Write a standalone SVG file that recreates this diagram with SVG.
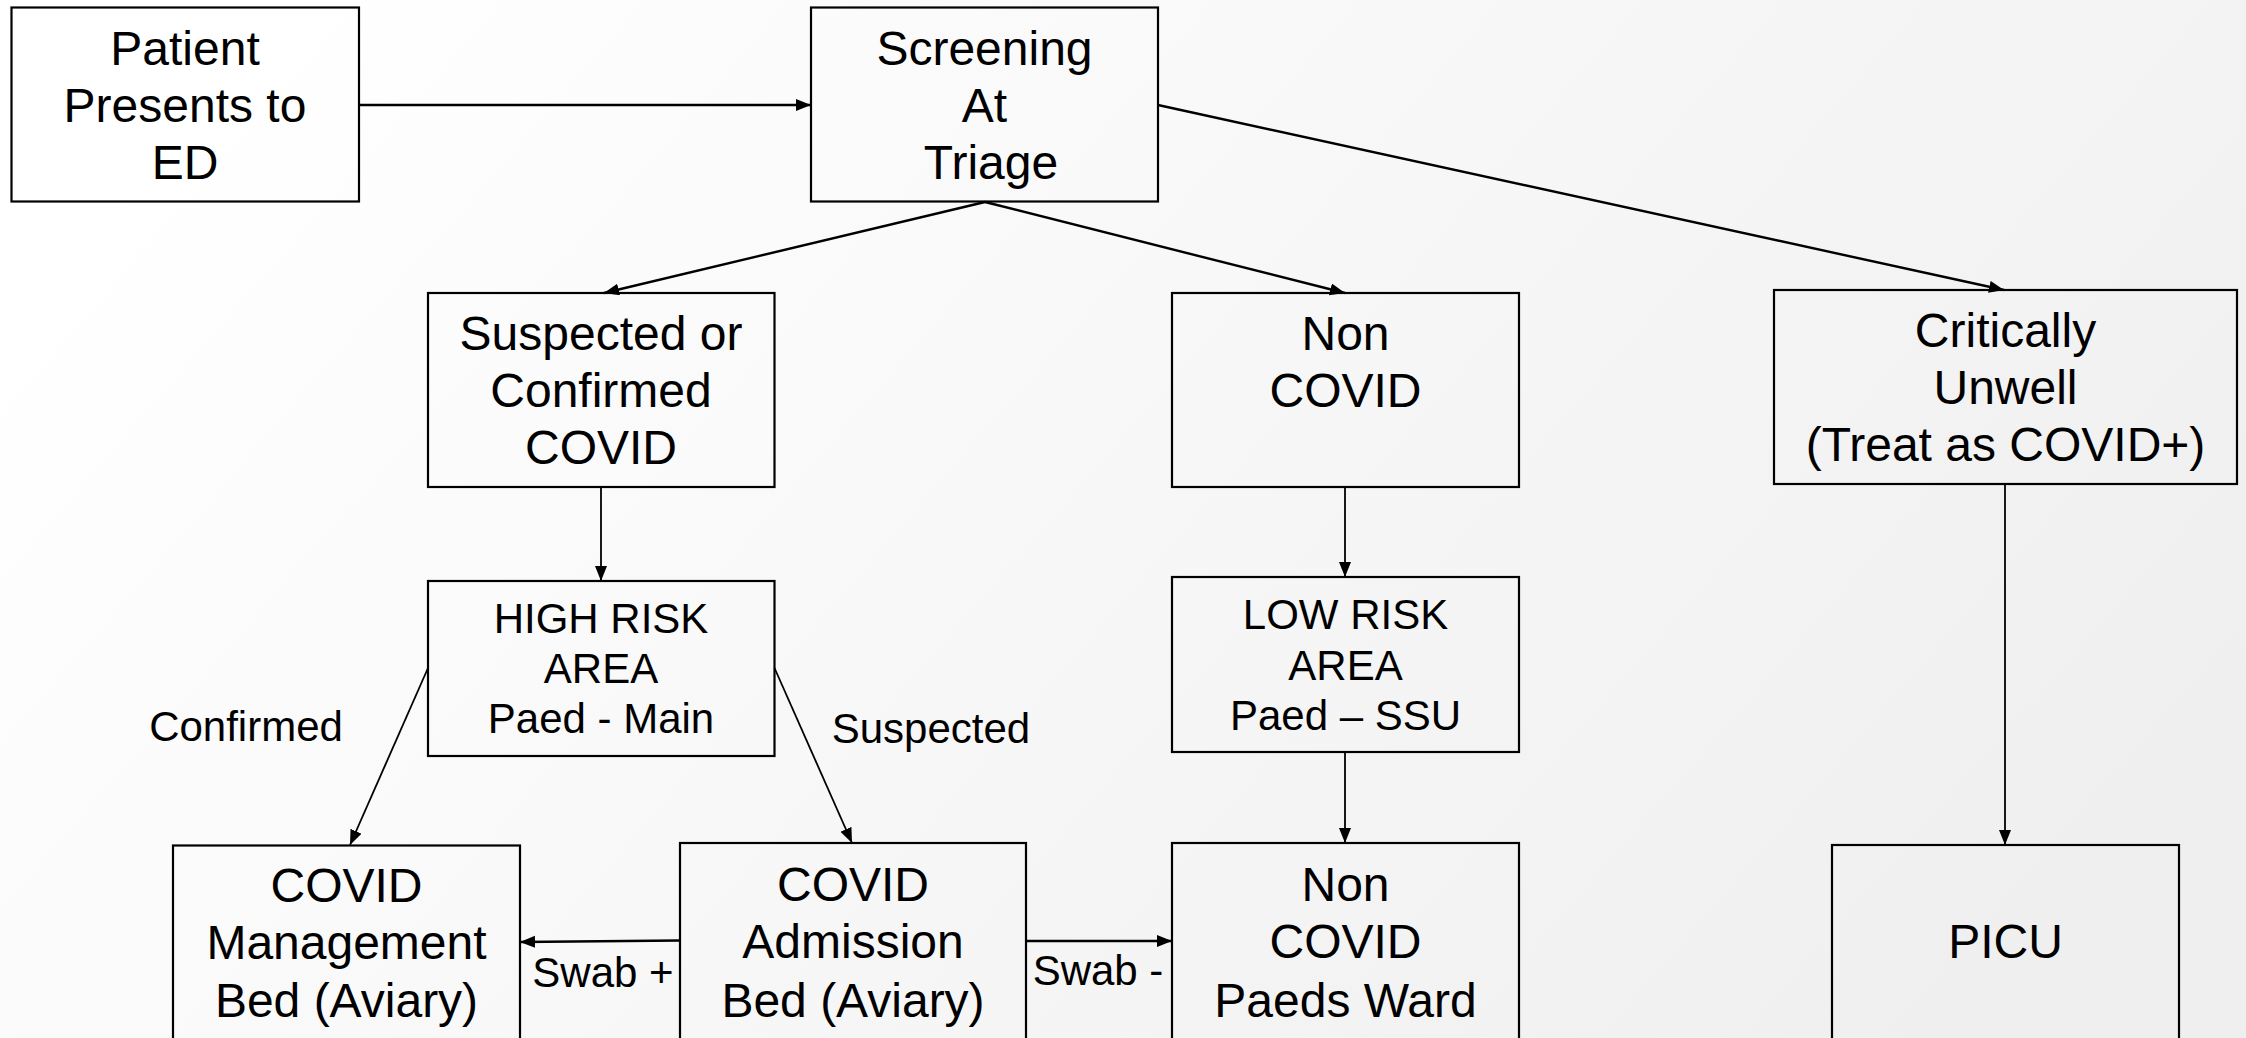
<svg xmlns="http://www.w3.org/2000/svg" width="2246" height="1038" viewBox="0 0 2246 1038">
<defs>
<linearGradient id="bg" x1="0" y1="0.3" x2="1" y2="0.7">
<stop offset="0" stop-color="#ffffff"/>
<stop offset="1" stop-color="#efefef"/>
</linearGradient>
<marker id="ah" markerUnits="userSpaceOnUse" markerWidth="16" markerHeight="14" refX="15" refY="6" orient="auto">
<path d="M0,0 L15,6 L0,12 z" fill="#000"/>
</marker>
</defs>
<style>
.box{fill:none;stroke:#000;stroke-width:2.2}
.big{font-family:"Liberation Sans",Arial,sans-serif;font-size:48px;fill:#000;text-anchor:middle}
.sm{font-family:"Liberation Sans",Arial,sans-serif;font-size:42px;fill:#000;text-anchor:middle}
.c{fill:none;stroke:#000;stroke-width:2.4;marker-end:url(#ah)}
.t{stroke-width:1.8}
</style>
<rect width="2246" height="1038" fill="url(#bg)"/>
<g id="connectors">
<line class="c" x1="359" y1="105" x2="811" y2="105"/>
<line class="c" x1="985" y1="202" x2="604" y2="293"/>
<line class="c" x1="985" y1="202" x2="1345" y2="293"/>
<line class="c" x1="1158" y1="105" x2="2004" y2="290"/>
<line class="c t" x1="601" y1="487" x2="601" y2="581"/>
<line class="c t" x1="1345" y1="487" x2="1345" y2="577"/>
<line class="c t" x1="2005" y1="484" x2="2005" y2="845"/>
<line class="c t" x1="428" y1="668" x2="350" y2="845"/>
<line class="c t" x1="774.5" y1="668" x2="852" y2="843"/>
<line class="c t" x1="1345" y1="752" x2="1345" y2="843"/>
<line class="c" x1="680" y1="940.5" x2="520" y2="942"/>
<line class="c" x1="1026" y1="941" x2="1172" y2="941"/>
<text class="sm" x="246" y="741">Confirmed</text>
<text class="sm" x="931" y="743">Suspected</text>
<text class="sm" x="603" y="987">Swab +</text>
<text class="sm" x="1098" y="985">Swab -</text>
</g>
<g id="patient">
<rect class="box" x="11.5" y="7.5" width="347.5" height="194"/>
<text class="big" x="185" y="65">Patient</text>
<text class="big" x="185" y="122">Presents to</text>
<text class="big" x="185" y="179">ED</text>
</g>
<g id="screening">
<rect class="box" x="811" y="7.5" width="347" height="194"/>
<text class="big" x="984.5" y="65">Screening</text>
<text class="big" x="984.5" y="122">At</text>
<text class="big" x="991" y="179">Triage</text>
</g>
<g id="suspected">
<rect class="box" x="428" y="293" width="346.5" height="194"/>
<text class="big" x="601" y="350">Suspected or</text>
<text class="big" x="601" y="407">Confirmed</text>
<text class="big" x="601" y="464">COVID</text>
</g>
<g id="noncovid">
<rect class="box" x="1172" y="293" width="347" height="194"/>
<text class="big" x="1345.5" y="350">Non</text>
<text class="big" x="1345.5" y="407">COVID</text>
</g>
<g id="critically">
<rect class="box" x="1774" y="290" width="463" height="194"/>
<text class="big" x="2005.5" y="347">Critically</text>
<text class="big" x="2005.5" y="404">Unwell</text>
<text class="big" x="2005.5" y="461">(Treat as COVID+)</text>
</g>
<g id="highrisk">
<rect class="box" x="428" y="581" width="346.5" height="175"/>
<text class="sm" x="601" y="633">HIGH RISK</text>
<text class="sm" x="601" y="683">AREA</text>
<text class="sm" x="601" y="733">Paed - Main</text>
</g>
<g id="lowrisk">
<rect class="box" x="1172" y="577" width="347" height="175"/>
<text class="sm" x="1345.5" y="629">LOW RISK</text>
<text class="sm" x="1345.5" y="680">AREA</text>
<text class="sm" x="1345.5" y="730">Paed – SSU</text>
</g>
<g id="management">
<rect class="box" x="173" y="845.5" width="347" height="300"/>
<text class="big" x="346.5" y="902">COVID</text>
<text class="big" x="346.5" y="959">Management</text>
<text class="big" x="346.5" y="1017">Bed (Aviary)</text>
</g>
<g id="admission">
<rect class="box" x="680" y="843" width="346" height="300"/>
<text class="big" x="853" y="901">COVID</text>
<text class="big" x="853" y="958">Admission</text>
<text class="big" x="853" y="1017">Bed (Aviary)</text>
</g>
<g id="ward">
<rect class="box" x="1172" y="843" width="347" height="300"/>
<text class="big" x="1345.5" y="901">Non</text>
<text class="big" x="1345.5" y="958">COVID</text>
<text class="big" x="1345.5" y="1017">Paeds Ward</text>
</g>
<g id="picu">
<rect class="box" x="1832" y="845" width="347" height="300"/>
<text class="big" x="2005.5" y="958">PICU</text>
</g>
</svg>
